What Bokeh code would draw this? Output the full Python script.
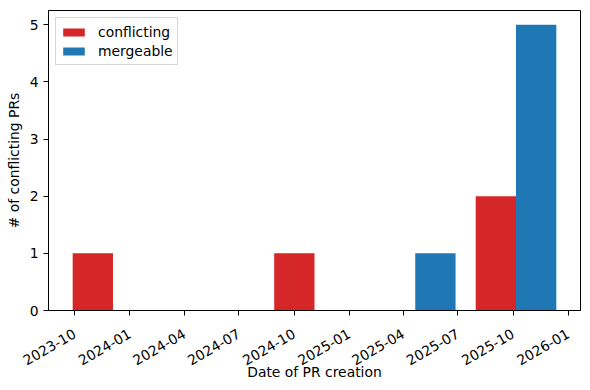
import math
import numpy as np
import pandas as pd
from bokeh.plotting import figure
from bokeh.models import Range1d, FixedTicker, SingleIntervalTicker, DatetimeTickFormatter, ColumnDataSource
from bokeh.embed import file_html
from bokeh.resources import INLINE

# ---- data ----
bin_edges = ["2023-09-11", "2024-02-26", "2024-08-12", "2025-01-27", "2025-07-14", "2025-12-29"]
conflicting = [1, 0, 1, 0, 2]
mergeable = [0, 0, 0, 1, 5]
tick_labels = ["2023-10", "2024-01", "2024-04", "2024-07", "2024-10",
               "2025-01", "2025-04", "2025-07", "2025-10", "2026-01"]
series_names = ["conflicting", "mergeable"]
series_colors = ["#d62728", "#1f77b4"]

FONT = "DejaVu Sans"
FS = "13.9px"

edges_ms = np.array([pd.Timestamp(d).value / 1e6 for d in bin_edges])
bw = np.diff(edges_ms)
left = edges_ms[:-1]
bar_w = 0.4 * bw
lo = left[0] + 0.1 * bw[0]
hi = left[-1] + 0.9 * bw[-1]
pad = 0.05 * (hi - lo)
ymax = max(max(conflicting), max(mergeable))

p = figure(width=590, height=390, x_axis_type="datetime",
           output_backend="svg", toolbar_location=None,
           x_range=Range1d(lo - pad, hi + pad), y_range=Range1d(0, ymax * 1.05),
           min_border_left=48, min_border_right=10, min_border_top=10, min_border_bottom=80)

for i, (name, vals, col) in enumerate(zip(series_names, [conflicting, mergeable], series_colors)):
    src = ColumnDataSource(dict(x=left + (0.3 + 0.4 * i) * bw, top=vals, w=bar_w))
    p.vbar(x="x", top="top", bottom=0, width="w", source=src,
           fill_color=col, line_color=None, legend_label=name)

p.xgrid.visible = False
p.ygrid.visible = False
p.outline_line_color = "black"
p.outline_line_width = 1
p.background_fill_color = "white"
p.border_fill_color = "white"

tick_ms = [pd.Timestamp(t + "-01").value / 1e6 for t in tick_labels]
p.xaxis.ticker = FixedTicker(ticks=tick_ms)
fmt = "%Y-%m"
p.xaxis.formatter = DatetimeTickFormatter(milliseconds=fmt, seconds=fmt, minsec=fmt, minutes=fmt,
                                          hourmin=fmt, hours=fmt, days=fmt, months=fmt, years=fmt)
p.xaxis.major_label_orientation = math.pi / 6
p.yaxis.ticker = SingleIntervalTicker(interval=1, num_minor_ticks=0)

for ax in (p.xaxis[0], p.yaxis[0]):
    ax.axis_line_color = "black"
    ax.axis_line_width = 1
    ax.major_tick_line_color = "black"
    ax.major_tick_in = 0
    ax.major_tick_out = 5
    ax.minor_tick_line_color = None
    ax.major_label_text_font = FONT
    ax.major_label_text_font_size = FS
    ax.major_label_text_color = "black"
    ax.axis_label_text_font = FONT
    ax.axis_label_text_font_size = FS
    ax.axis_label_text_font_style = "normal"
    ax.axis_label_text_color = "black"

p.xaxis.major_label_standoff = 17
p.yaxis.major_label_standoff = 5
p.xaxis.axis_label = "Date of PR creation"
p.yaxis.axis_label = "# of conflicting PRs"
p.xaxis.axis_label_standoff = -9
p.yaxis.axis_label_standoff = 5

lg = p.legend[0]
lg.location = "top_left"
lg.margin = 7
lg.padding = 4
lg.spacing = 0
lg.label_height = 19
lg.glyph_height = 10
lg.glyph_width = 27
lg.label_standoff = 11
lg.label_text_font = FONT
lg.label_text_font_size = FS
lg.label_text_color = "black"
lg.border_line_color = "#cccccc"
lg.border_line_alpha = 0.8
lg.background_fill_alpha = 0.8

open("out.html", "w").write(file_html(p, INLINE))
